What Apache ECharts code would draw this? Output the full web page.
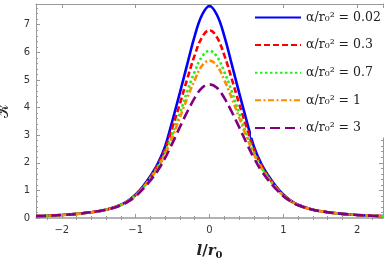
<!DOCTYPE html>
<html><head><meta charset="utf-8">
<script src="https://cdn.jsdelivr.net/npm/echarts@6/dist/echarts.min.js"></script>
<style>html,body{margin:0;padding:0;background:#fff}#c{width:388px;height:262px}</style>
</head><body><div id="c"></div>
<script>
const lValues = [-2.35,-2.2,-2.0,-1.8,-1.6,-1.4,-1.2,-1.1,-1.0,-0.9,-0.8,-0.7,-0.6,-0.5,-0.4,-0.3,-0.2,-0.1,0,0.1,0.2,0.3,0.4,0.5,0.6,0.7,0.8,0.9,1.0,1.1,1.2,1.4,1.6,1.8,2.0,2.2,2.35];
const k002 = [0.07,0.08,0.11,0.15,0.21,0.30,0.48,0.63,0.85,1.15,1.52,1.97,2.60,3.55,4.55,5.58,6.60,7.36,7.68,7.36,6.60,5.58,4.55,3.55,2.60,1.97,1.52,1.15,0.85,0.63,0.48,0.30,0.21,0.15,0.11,0.08,0.07];
const k03  = [0.07,0.08,0.11,0.15,0.21,0.30,0.47,0.62,0.83,1.12,1.48,1.92,2.50,3.30,4.15,5.05,5.90,6.55,6.80,6.55,5.90,5.05,4.15,3.30,2.50,1.92,1.48,1.12,0.83,0.62,0.47,0.30,0.21,0.15,0.11,0.08,0.07];
const k07  = [0.07,0.08,0.11,0.15,0.21,0.30,0.47,0.62,0.82,1.10,1.45,1.85,2.38,3.05,3.80,4.60,5.30,5.85,6.05,5.85,5.30,4.60,3.80,3.05,2.38,1.85,1.45,1.10,0.82,0.62,0.47,0.30,0.21,0.15,0.11,0.08,0.07];
const k1   = [0.07,0.08,0.11,0.15,0.21,0.30,0.47,0.61,0.81,1.09,1.42,1.82,2.32,2.95,3.65,4.35,5.00,5.52,5.70,5.52,5.00,4.35,3.65,2.95,2.32,1.82,1.42,1.09,0.81,0.61,0.47,0.30,0.21,0.15,0.11,0.08,0.07];
const k3   = [0.07,0.08,0.11,0.15,0.21,0.30,0.46,0.60,0.79,1.05,1.36,1.72,2.18,2.72,3.30,3.85,4.35,4.72,4.84,4.72,4.35,3.85,3.30,2.72,2.18,1.72,1.36,1.05,0.79,0.60,0.46,0.30,0.21,0.15,0.11,0.08,0.07];
const seriesNames = ['α/r₀² = 0.02','α/r₀² = 0.3','α/r₀² = 0.7','α/r₀² = 1','α/r₀² = 3'];
const xMajor = [-2,-1,0,1,2];
const yTicks = [0,1,2,3,4,5,6,7];

const xMinor = [];
for (let i = -11; i <= 11; i++) { const v = +(i*0.2).toFixed(1); if (Math.abs(v - Math.round(v)) > 1e-6) xMinor.push(v); }

const frameColor = '#999';
const labelStyle = {color:'#333', fontFamily:'DejaVu Sans', fontSize:10};
const minus = v => String(v).replace('-', '\u2212');

function mk(name, arr, color, type, width) {
  return {name, type:'line', smooth:0.4, showSymbol:false, symbol:'none',
    data: lValues.map((l,i)=>[l, arr[i]]),
    lineStyle:{color, type, width}, itemStyle:{color}, z: 3};
}

const chart = echarts.init(document.getElementById('c'), null, {renderer:'canvas'});
chart.setOption({
  animation:false,
  grid:{left:36, right:5, top:4, bottom:44, containLabel:false, outerBoundsMode:'none'},
  xAxis:[
    {type:'value', min:-2.35, max:2.35, position:'bottom',
     axisLine:{show:true, onZero:false, lineStyle:{color:frameColor, width:1.5}},
     axisTick:{show:true, inside:true, length:4, customValues:xMajor, lineStyle:{color:frameColor}},
     axisLabel:{customValues:xMajor, formatter:minus, margin:7, ...labelStyle},
     splitLine:{show:false},
     name:'{a|l}{b|/}{a|r}{s|0}', nameLocation:'middle', nameGap:24,
     nameTextStyle:{rich:{
       a:{fontFamily:'DejaVu Serif', fontStyle:'italic', fontWeight:'bold', fontSize:15, color:'#222'},
       b:{fontFamily:'DejaVu Serif', fontWeight:'bold', fontSize:15, color:'#222'},
       s:{fontFamily:'DejaVu Serif', fontWeight:'bold', fontSize:10, color:'#222', padding:[8,0,0,0]}
     }}},
    {type:'value', min:-2.35, max:2.35, position:'bottom',
     axisLine:{show:false}, axisLabel:{show:false}, splitLine:{show:false},
     axisTick:{show:true, inside:true, length:2, customValues:xMinor, lineStyle:{color:frameColor}}},
    {type:'value', min:-2.35, max:2.35, position:'top',
     axisLine:{show:true, onZero:false, lineStyle:{color:frameColor}}, axisLabel:{show:false}, splitLine:{show:false},
     axisTick:{show:true, inside:true, length:4, customValues:xMajor, lineStyle:{color:frameColor}}},
    {type:'value', min:-2.35, max:2.35, position:'top',
     axisLine:{show:false}, axisLabel:{show:false}, splitLine:{show:false},
     axisTick:{show:true, inside:true, length:2, customValues:xMinor, lineStyle:{color:frameColor}}}
  ],
  yAxis:[
    {type:'value', min:0, max:7.75, interval:1, position:'left',
     axisLine:{show:true, onZero:false, lineStyle:{color:frameColor}},
     axisTick:{show:true, inside:true, length:4, customValues:yTicks, lineStyle:{color:frameColor}},
     minorTick:{show:true, splitNumber:5, length:2, lineStyle:{color:frameColor}},
     axisLabel:{customValues:yTicks, margin:6, ...labelStyle},
     splitLine:{show:false},
     name:'𝒦', nameLocation:'middle', nameGap:24, nameRotate:90,
     nameTextStyle:{fontFamily:'DejaVu Serif', fontSize:15, color:'#222'}},
    {type:'value', min:0, max:7.75, interval:1, position:'right',
     axisLine:{show:true, onZero:false, lineStyle:{color:frameColor}},
     axisTick:{show:true, inside:true, length:4, lineStyle:{color:frameColor}},
     minorTick:{show:true, splitNumber:5, length:2, lineStyle:{color:frameColor}},
     axisLabel:{show:false}, splitLine:{show:false}}
  ],
  legend:{
    left:251, top:8, orient:'vertical', itemWidth:46, itemHeight:14, itemGap:14.6,
    backgroundColor:'#fff', padding:[3,4,3,3],
    itemStyle:{opacity:0},
    textStyle:{fontFamily:'DejaVu Serif', fontSize:12.5, color:'#222'},
    data: seriesNames
  },
  series:[
    mk(seriesNames[0], k002, '#0000ff', 'solid', 2.6),
    mk(seriesNames[1], k03, '#ff0000', [6,3], 2.6),
    mk(seriesNames[2], k07, '#22ee22', [2.5,2.5], 2.6),
    mk(seriesNames[3], k1, '#ff8c00', [6,2.5,2,2.5], 2.6),
    mk(seriesNames[4], k3, '#800080', [10,5], 2.6)
  ]
});
</script></body></html>
